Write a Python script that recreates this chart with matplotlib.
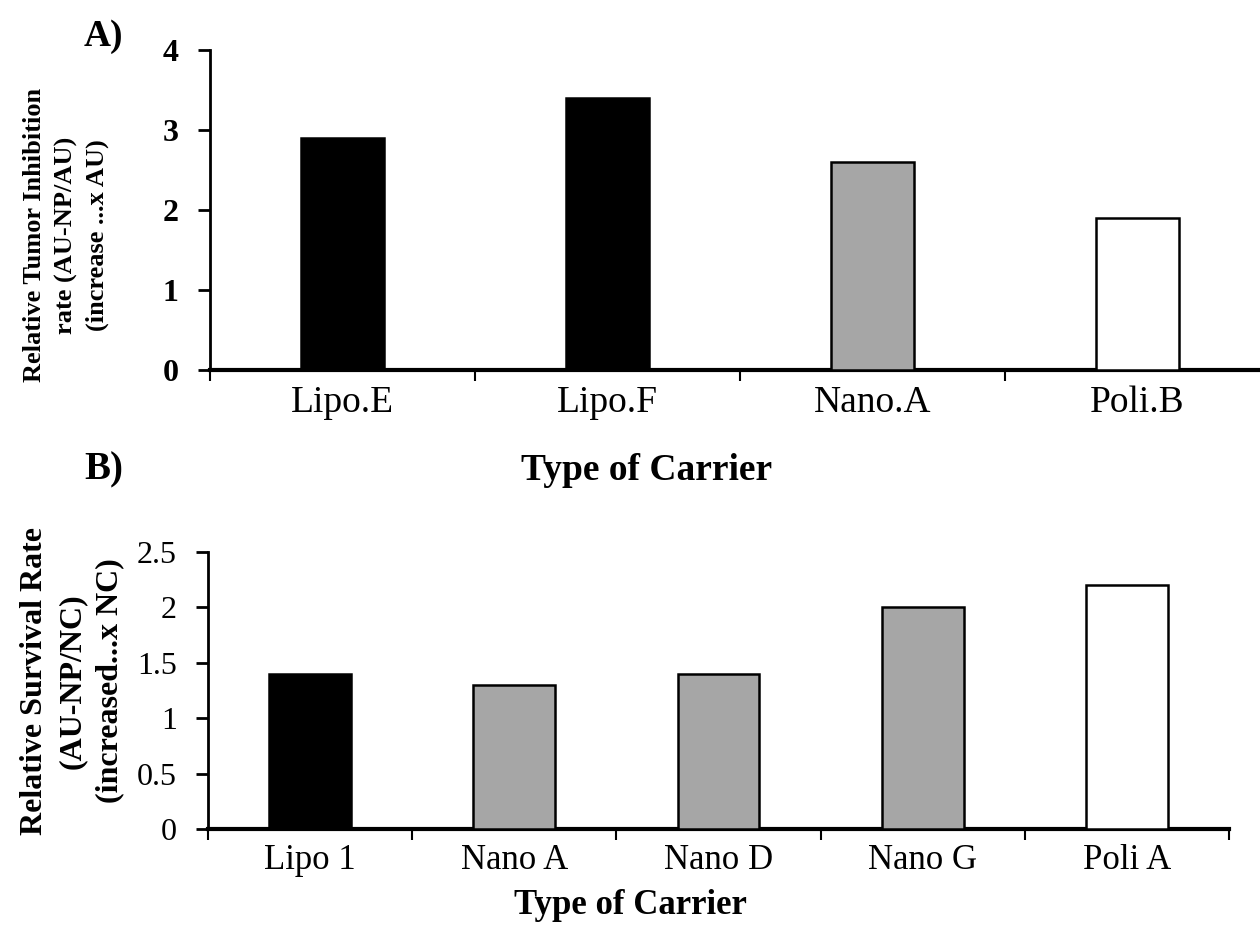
import numpy as np
import matplotlib
matplotlib.use("Agg")
import matplotlib.pyplot as plt
from matplotlib.ticker import FixedLocator

plt.rcParams['font.family'] = ['Liberation Serif', 'DejaVu Serif']

# panel A
cats_a = ['Lipo.E', 'Lipo.F', 'Nano.A', 'Poli.B']
vals_a = [2.9, 3.4, 2.6, 1.9]
cols_a = ['black', 'black', '#a6a6a6', 'white']

# panel B
cats_b = ['Lipo 1', 'Nano A', 'Nano D', 'Nano G', 'Poli A']
vals_b = [1.4, 1.3, 1.4, 2.0, 2.2]
cols_b = ['black', '#a6a6a6', '#a6a6a6', '#a6a6a6', 'white']

fig = plt.figure(figsize=(12.6, 9.3), dpi=100)
W, H = 1260.0, 930.0

ax1 = fig.add_axes([210/W, 1-370/H, 1060/W, 320/H])
ax2 = fig.add_axes([208/W, 1-829/H, 1021/W, 277/H])


def style(ax, n, ticklabels, bold_y, xsize, ysize):
    for s in ['top', 'right']:
        ax.spines[s].set_visible(False)
    ax.spines['left'].set_linewidth(2)
    ax.spines['bottom'].set_linewidth(3)
    ax.set_xlim(-0.5, n - 0.5)
    ax.set_xticks(np.arange(n))
    ax.set_xticklabels(ticklabels, fontsize=xsize)
    ax.xaxis.set_minor_locator(FixedLocator(np.arange(n + 1) - 0.5))
    ax.tick_params(axis='x', which='major', length=0, pad=11)
    ax.tick_params(axis='x', which='minor', length=8, width=1.5, direction='out')
    ax.tick_params(axis='y', which='major', length=8.5, width=2, direction='out', pad=14, labelsize=ysize)
    for t in ax.get_yticklabels():
        t.set_fontweight('bold' if bold_y else 'normal')


ax1.bar(np.arange(len(cats_a)), vals_a, width=0.31, color=cols_a,
        edgecolor='black', linewidth=1.8, zorder=3)
ax1.set_ylim(0, 4)
ax1.set_yticks([0, 1, 2, 3, 4])
ax1.set_yticklabels(['0', '1', '2', '3', '4'])
style(ax1, len(cats_a), cats_a, True, 27, 23)

ax2.bar(np.arange(len(cats_b)), vals_b, width=0.40, color=cols_b,
        edgecolor='black', linewidth=1.8, zorder=3)
ax2.set_ylim(0, 2.5)
ax2.set_yticks([0, 0.5, 1, 1.5, 2, 2.5])
ax2.set_yticklabels(['0', '0.5', '1', '1.5', '2', '2.5'])
style(ax2, len(cats_b), cats_b, False, 25, 23)

fig.text(66/W, 1-235/H, 'Relative Tumor Inhibition\nrate (AU-NP/AU)\n(increase ...x AU)',
         rotation=90, ha='center', va='center', multialignment='center',
         fontsize=19, fontweight='bold', linespacing=1.45)
fig.text(72/W, 1-681/H, 'Relative Survival Rate\n(AU-NP/NC)\n(increased...x NC)',
         rotation=90, ha='center', va='center', multialignment='center',
         fontsize=23, fontweight='bold', linespacing=1.4)

fig.text(647/W, 1-470/H, 'Type of Carrier', ha='center', va='center',
         fontsize=27, fontweight='bold')
fig.text(630/W, 1-905/H, 'Type of Carrier', ha='center', va='center',
         fontsize=25, fontweight='bold')

fig.text(103/W, 1-36/H, 'A)', ha='center', va='center', fontsize=27, fontweight='bold')
fig.text(104/W, 1-470/H, 'B)', ha='center', va='center', fontsize=28, fontweight='bold')

fig.savefig('out.png', dpi=100, facecolor='white')
